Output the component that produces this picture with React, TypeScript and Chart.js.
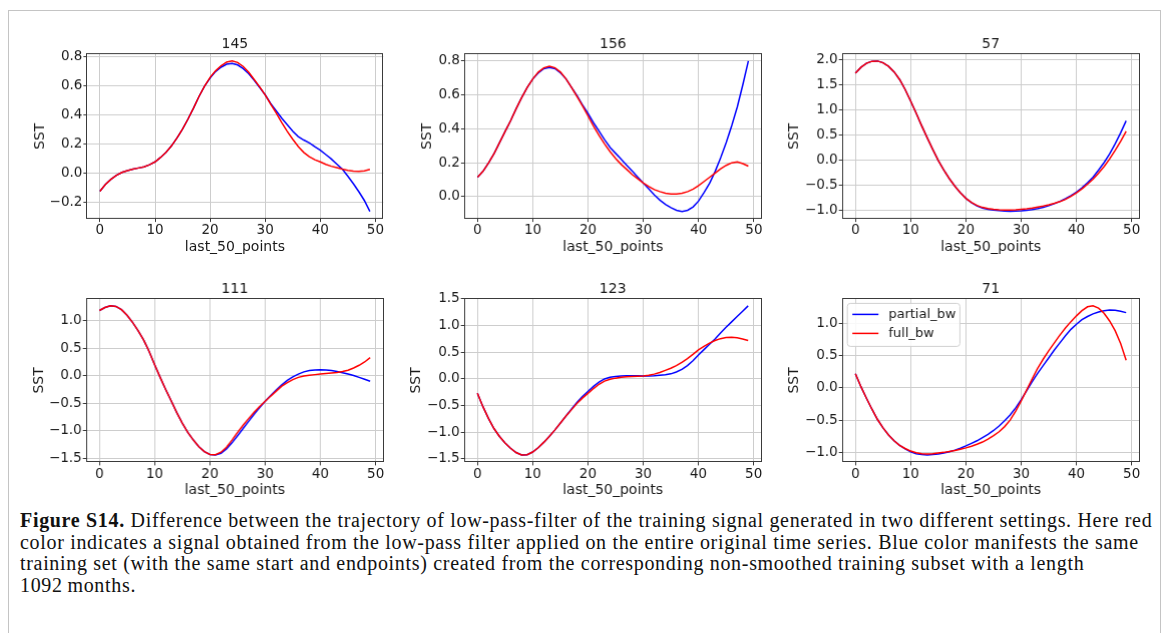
import React, { useEffect, useRef } from 'react';
import { Chart, registerables } from 'chart.js';

Chart.register(...registerables);

// ---------- data ----------
const xIndex = [
  0, 1, 2, 3, 4, 5, 6, 7, 8, 9, 10, 11, 12, 13, 14, 15, 16, 17, 18, 19, 20, 21, 22, 23, 24,
  25, 26, 27, 28, 29, 30, 31, 32, 33, 34, 35, 36, 37, 38, 39, 40, 41, 42, 43, 44, 45, 46, 47, 48, 49,
];
const xTickValues = [0, 10, 20, 30, 40, 50];
const xTickLabels = ['0', '10', '20', '30', '40', '50'];

const seriesNames = ['partial_bw', 'full_bw'];
const panelTitles = ['145', '156', '57', '111', '123', '71'];

const partial145 = [
  -0.122, -0.075, -0.04, -0.012, 0.008, 0.02, 0.03, 0.038, 0.046, 0.06,
  0.08, 0.11, 0.145, 0.19, 0.245, 0.305, 0.375, 0.45, 0.53, 0.6,
  0.655, 0.7, 0.73, 0.75, 0.755, 0.745, 0.72, 0.685, 0.64, 0.59,
  0.54, 0.48, 0.43, 0.38, 0.335, 0.29, 0.254, 0.23, 0.21, 0.185,
  0.16, 0.13, 0.1, 0.065, 0.03, -0.018, -0.07, -0.125, -0.185, -0.26,
];
const full145 = [
  -0.122, -0.075, -0.04, -0.012, 0.008, 0.02, 0.03, 0.038, 0.046, 0.06,
  0.08, 0.11, 0.145, 0.19, 0.245, 0.305, 0.375, 0.45, 0.53, 0.6,
  0.66, 0.705, 0.74, 0.765, 0.772, 0.762, 0.735, 0.695, 0.645, 0.595,
  0.54, 0.475, 0.415, 0.35, 0.29, 0.235, 0.185, 0.145, 0.115, 0.095,
  0.08, 0.063, 0.05, 0.04, 0.03, 0.022, 0.016, 0.015, 0.018, 0.028,
];

const partial156 = [
  0.115, 0.15, 0.2, 0.255, 0.32, 0.385, 0.45, 0.52, 0.585, 0.645,
  0.695, 0.73, 0.755, 0.762, 0.755, 0.73, 0.695, 0.645, 0.595, 0.54,
  0.49, 0.435, 0.385, 0.335, 0.29, 0.255, 0.22, 0.185, 0.15, 0.115,
  0.08, 0.045, 0.01, -0.02, -0.045, -0.065, -0.08, -0.087, -0.08, -0.06,
  -0.025, 0.025, 0.08, 0.15, 0.23, 0.32, 0.42, 0.53, 0.66, 0.8,
];
const full156 = [
  0.115, 0.15, 0.2, 0.255, 0.32, 0.385, 0.45, 0.52, 0.585, 0.645,
  0.695, 0.735, 0.76, 0.77, 0.76, 0.735, 0.695, 0.645, 0.59, 0.535,
  0.475, 0.415, 0.36, 0.31, 0.265, 0.225, 0.19, 0.16, 0.13, 0.105,
  0.08, 0.06, 0.042, 0.03, 0.02, 0.016, 0.016, 0.02, 0.03, 0.045,
  0.065, 0.09, 0.115, 0.14, 0.165, 0.185, 0.2, 0.205, 0.195, 0.18,
];

const partial57 = [
  1.725, 1.84, 1.92, 1.96, 1.965, 1.93, 1.86, 1.75, 1.6, 1.4,
  1.17, 0.93, 0.68, 0.44, 0.21, -0.01, -0.2, -0.37, -0.52, -0.65,
  -0.76, -0.845, -0.91, -0.955, -0.98, -0.995, -1.005, -1.015, -1.02, -1.015,
  -1.01, -1.0, -0.985, -0.965, -0.94, -0.905, -0.865, -0.82, -0.765, -0.705,
  -0.635, -0.55, -0.45, -0.34, -0.2, -0.05, 0.12, 0.32, 0.54, 0.78,
];
const full57 = [
  1.725, 1.84, 1.92, 1.96, 1.965, 1.93, 1.86, 1.75, 1.6, 1.4,
  1.17, 0.93, 0.68, 0.44, 0.21, -0.01, -0.2, -0.37, -0.52, -0.65,
  -0.76, -0.84, -0.9, -0.94, -0.965, -0.98, -0.99, -0.995, -0.995, -0.99,
  -0.98, -0.97, -0.955, -0.935, -0.915, -0.89, -0.86, -0.825, -0.78, -0.72,
  -0.65, -0.57, -0.48, -0.38, -0.26, -0.13, 0.02, 0.19, 0.37, 0.57,
];

const partial111 = [
  1.185, 1.24, 1.27, 1.26, 1.2, 1.1, 0.97, 0.82, 0.65, 0.44,
  0.2, -0.03, -0.25, -0.46, -0.67, -0.86, -1.03, -1.17, -1.29, -1.38,
  -1.43, -1.44, -1.41, -1.33, -1.22, -1.09, -0.96, -0.83, -0.7, -0.58,
  -0.465, -0.36, -0.26, -0.165, -0.085, -0.02, 0.03, 0.07, 0.095, 0.105,
  0.11, 0.105, 0.095, 0.075, 0.055, 0.03, 0.005, -0.03, -0.065, -0.1,
];
const full111 = [
  1.185, 1.24, 1.27, 1.26, 1.2, 1.1, 0.97, 0.82, 0.65, 0.44,
  0.2, -0.03, -0.25, -0.46, -0.67, -0.86, -1.03, -1.17, -1.29, -1.38,
  -1.43, -1.435, -1.39, -1.3, -1.17, -1.03, -0.9, -0.78, -0.665, -0.56,
  -0.465, -0.37, -0.28, -0.19, -0.125, -0.07, -0.03, -0.005, 0.01, 0.02,
  0.03, 0.04, 0.05, 0.06, 0.075, 0.1, 0.14, 0.19, 0.25, 0.33,
];

const partial123 = [
  -0.27, -0.52, -0.74, -0.93, -1.08, -1.2, -1.3, -1.38, -1.425, -1.42,
  -1.37, -1.29, -1.19, -1.08, -0.96, -0.83, -0.7, -0.57, -0.44, -0.33,
  -0.235, -0.14, -0.06, 0.0, 0.03, 0.045, 0.055, 0.06, 0.06, 0.058,
  0.055, 0.055, 0.06, 0.07, 0.08, 0.095, 0.13, 0.18, 0.25, 0.34,
  0.45, 0.55, 0.65, 0.75, 0.86, 0.97, 1.07, 1.17, 1.27, 1.37,
];
const full123 = [
  -0.27, -0.52, -0.74, -0.93, -1.08, -1.2, -1.3, -1.38, -1.425, -1.42,
  -1.37, -1.29, -1.19, -1.08, -0.96, -0.83, -0.7, -0.58, -0.46, -0.36,
  -0.27, -0.18, -0.1, -0.04, -0.005, 0.015, 0.03, 0.04, 0.045, 0.05,
  0.055, 0.07, 0.09, 0.12, 0.16, 0.2, 0.25, 0.31, 0.38, 0.46,
  0.545, 0.61, 0.67, 0.72, 0.755, 0.775, 0.78, 0.77, 0.75, 0.72,
];

const partial71 = [
  0.22, 0.02, -0.16, -0.33, -0.49, -0.62, -0.73, -0.82, -0.89, -0.945,
  -0.99, -1.02, -1.035, -1.04, -1.035, -1.025, -1.01, -0.99, -0.965, -0.935,
  -0.9, -0.86, -0.82, -0.77, -0.72, -0.66, -0.59, -0.51, -0.42, -0.31,
  -0.18, -0.04, 0.1, 0.23, 0.35, 0.47, 0.59, 0.7, 0.81, 0.91,
  0.99, 1.06, 1.11, 1.15, 1.18, 1.2, 1.21, 1.205, 1.19, 1.17,
];
const full71 = [
  0.22, 0.02, -0.16, -0.33, -0.49, -0.62, -0.73, -0.82, -0.89, -0.94,
  -0.98, -1.005, -1.02, -1.025, -1.02, -1.01, -1.0, -0.985, -0.97, -0.95,
  -0.93, -0.905, -0.875, -0.84, -0.795, -0.74, -0.68, -0.6, -0.5, -0.36,
  -0.2, -0.03, 0.14, 0.31, 0.45, 0.58, 0.7, 0.82, 0.93, 1.03,
  1.12, 1.2, 1.26, 1.275, 1.24, 1.16, 1.04, 0.89, 0.69, 0.43,
];

const yTicks145 = [-0.2, 0, 0.2, 0.4, 0.6, 0.8];
const yTickLabels145 = ['\u22120.2', '0.0', '0.2', '0.4', '0.6', '0.8'];
const yTicks156 = [0, 0.2, 0.4, 0.6, 0.8];
const yTickLabels156 = ['0.0', '0.2', '0.4', '0.6', '0.8'];
const yTicks57 = [-1, -0.5, 0, 0.5, 1, 1.5, 2];
const yTickLabels57 = ['\u22121.0', '\u22120.5', '0.0', '0.5', '1.0', '1.5', '2.0'];
const yTicks111 = [-1.5, -1, -0.5, 0, 0.5, 1];
const yTickLabels111 = ['\u22121.5', '\u22121.0', '\u22120.5', '0.0', '0.5', '1.0'];
const yTicks123 = [-1.5, -1, -0.5, 0, 0.5, 1, 1.5];
const yTickLabels123 = ['\u22121.5', '\u22121.0', '\u22120.5', '0.0', '0.5', '1.0', '1.5'];
const yTicks71 = [-1, -0.5, 0, 0.5, 1];
const yTickLabels71 = ['\u22121.0', '\u22120.5', '0.0', '0.5', '1.0'];

const xAxisTitle = 'last_50_points';
const yAxisTitle = 'SST';

const captionBold = 'Figure S14.';
const captionLines = [
  ' Difference between the trajectory of low-pass-filter of the training signal generated in two different settings. Here red',
  'color indicates a signal obtained from the low-pass filter applied on the entire original time series. Blue color manifests the same',
  'training set (with the same start and endpoints) created from the corresponding non-smoothed training subset with a length',
  '1092\u2009months.',
];

// ---------- styling / layout ----------
const FONT = "'DejaVu Sans', 'Noto Sans', sans-serif";
const TEXT = '#1a1a1a';

type Panel = {
  title: string;
  partial: number[];
  full: number[];
  yTicks: number[];
  yTickLabels: string[];
  left: number;
  top: number;
  plotW: number;
  plotH: number;
  yW: number;
  legend: boolean;
};

const panels: Panel[] = [
  { title: panelTitles[0], partial: partial145, full: full145, yTicks: yTicks145, yTickLabels: yTickLabels145, left: 86, top: 53.3, plotW: 297, plotH: 164.7, yW: 54.4, legend: false },
  { title: panelTitles[1], partial: partial156, full: full156, yTicks: yTicks156, yTickLabels: yTickLabels156, left: 464, top: 53.3, plotW: 297, plotH: 164.7, yW: 44.9, legend: false },
  { title: panelTitles[2], partial: partial57, full: full57, yTicks: yTicks57, yTickLabels: yTickLabels57, left: 842, top: 53.3, plotW: 297, plotH: 164.7, yW: 55.7, legend: false },
  { title: panelTitles[3], partial: partial111, full: full111, yTicks: yTicks111, yTickLabels: yTickLabels111, left: 86, top: 298, plotW: 297, plotH: 164, yW: 54.7, legend: false },
  { title: panelTitles[4], partial: partial123, full: full123, yTicks: yTicks123, yTickLabels: yTickLabels123, left: 464, top: 298, plotW: 297, plotH: 164, yW: 55.7, legend: false },
  { title: panelTitles[5], partial: partial71, full: full71, yTicks: yTicks71, yTickLabels: yTickLabels71, left: 842, top: 298, plotW: 297, plotH: 164, yW: 55.7, legend: true },
];

const TITLE_SIZE = 14;
const TITLE_PAD = 0.6;
const TITLE_H = TITLE_SIZE * 1.2 + TITLE_PAD;
const AXIS_TITLE_SIZE = 14;
const TICK_SIZE = 13.5;
const XAXIS_H = 36.8;
const RIGHT_PAD = 12;

function tickFormatter(values: number[], labels: string[]) {
  return (v: number | string) => {
    const i = values.findIndex((t) => Math.abs(t - Number(v)) < 1e-9);
    return i >= 0 ? labels[i] : '';
  };
}

const spinePlugin = {
  id: 'spines',
  afterDatasetsDraw(chart: any) {
    const { ctx, chartArea: a } = chart;
    ctx.save();
    ctx.strokeStyle = '#3a3a3a';
    ctx.lineWidth = 1;
    const l = Math.round(a.left) + 0.5;
    const t = Math.round(a.top) + 0.5;
    const r = Math.round(a.right) - 0.5;
    const b = Math.round(a.bottom) - 0.5;
    ctx.strokeRect(l, t, r - l, b - t);
    ctx.restore();
  },
};

const boxLegendPlugin = {
  id: 'boxLegend',
  afterDatasetsDraw(chart: any, _args: any, opts: any) {
    if (!opts || !opts.show) return;
    const { ctx, chartArea: a } = chart;
    const fontSize = 13;
    ctx.save();
    ctx.font = `${fontSize}px ${FONT}`;
    const items = chart.data.datasets.map((d: any) => ({ label: d.label, color: d.borderColor }));
    const lineLen = 26;
    const pad = 5;
    const gap = 10;
    const rowH = 19;
    const maxText = Math.max(...items.map((it: any) => ctx.measureText(it.label).width));
    const w = pad + lineLen + gap + maxText + 4;
    const h = items.length * rowH + 5;
    const x = a.left + 5.5;
    const y = a.top + 5;
    ctx.beginPath();
    if (ctx.roundRect) ctx.roundRect(x, y, w, h, 3);
    else ctx.rect(x, y, w, h);
    ctx.fillStyle = 'rgba(255,255,255,0.85)';
    ctx.fill();
    ctx.strokeStyle = '#d0d0d0';
    ctx.lineWidth = 1;
    ctx.stroke();
    items.forEach((it: any, i: number) => {
      const cy = y + 11 + i * rowH;
      ctx.beginPath();
      ctx.moveTo(x + pad, cy);
      ctx.lineTo(x + pad + lineLen, cy);
      ctx.strokeStyle = it.color;
      ctx.lineWidth = 1.5;
      ctx.stroke();
      ctx.fillStyle = TEXT;
      ctx.textBaseline = 'middle';
      ctx.textAlign = 'left';
      ctx.fillText(it.label, x + pad + lineLen + gap, cy);
    });
    ctx.restore();
  },
};

function SubPlot({ p }: { p: Panel }) {
  const ref = useRef<HTMLCanvasElement | null>(null);
  useEffect(() => {
    if (!ref.current) return;
    const all = p.partial.concat(p.full);
    const lo = Math.min(...all);
    const hi = Math.max(...all);
    const m = (hi - lo) * 0.05;
    const xLo = xIndex[0];
    const xHi = xIndex[xIndex.length - 1];
    const xm = (xHi - xLo) * 0.05;
    const chart = new Chart(ref.current, {
      type: 'line',
      data: {
        datasets: [
          {
            label: seriesNames[0],
            data: xIndex.map((x, i) => ({ x, y: p.partial[i] })),
            borderColor: '#0000ff',
            backgroundColor: '#0000ff',
            borderWidth: 1.5,
            pointRadius: 0,
            tension: 0,
            order: 1,
          },
          {
            label: seriesNames[1],
            data: xIndex.map((x, i) => ({ x, y: p.full[i] })),
            borderColor: '#ff0000',
            backgroundColor: '#ff0000',
            borderWidth: 1.5,
            pointRadius: 0,
            tension: 0,
            order: 0,
          },
        ],
      },
      options: {
        responsive: true,
        maintainAspectRatio: false,
        animation: false,
        events: [],
        layout: { padding: { left: 0, right: RIGHT_PAD, top: 0, bottom: 0 } },
        plugins: {
          legend: { display: false },
          tooltip: { enabled: false },
          title: {
            display: true,
            text: p.title,
            fullSize: false,
            color: TEXT,
            font: { family: FONT, size: TITLE_SIZE, weight: 'normal', lineHeight: 1.2 },
            padding: { top: 0, bottom: TITLE_PAD },
          },
          boxLegend: { show: p.legend },
        } as any,
        scales: {
          x: {
            type: 'linear',
            min: xLo - xm,
            max: xHi + xm,
            afterBuildTicks: (s: any) => {
              s.ticks = xTickValues.map((v) => ({ value: v }));
            },
            afterFit: (s: any) => {
              s.height = XAXIS_H;
            },
            ticks: {
              autoSkip: false,
              maxRotation: 0,
              padding: 0.5,
              color: TEXT,
              font: { family: FONT, size: TICK_SIZE },
              callback: tickFormatter(xTickValues, xTickLabels),
            },
            grid: { color: '#cdcdcd', lineWidth: 1, drawTicks: true, tickLength: 3, tickColor: '#3a3a3a', tickWidth: 1 },
            border: { display: false },
            title: { display: true, text: xAxisTitle, color: TEXT, font: { family: FONT, size: AXIS_TITLE_SIZE }, padding: 0 },
          },
          y: {
            type: 'linear',
            min: lo - m,
            max: hi + m,
            afterBuildTicks: (s: any) => {
              s.ticks = p.yTicks.map((v) => ({ value: v }));
            },
            afterFit: (s: any) => {
              s.width = p.yW;
            },
            ticks: {
              autoSkip: false,
              padding: 1,
              color: TEXT,
              font: { family: FONT, size: TICK_SIZE },
              callback: tickFormatter(p.yTicks, p.yTickLabels),
            },
            grid: { color: '#cdcdcd', lineWidth: 1, drawTicks: true, tickLength: 3, tickColor: '#3a3a3a', tickWidth: 1 },
            border: { display: false },
            title: { display: true, text: yAxisTitle, color: TEXT, font: { family: FONT, size: AXIS_TITLE_SIZE }, padding: 0 },
          },
        },
      } as any,
      plugins: [spinePlugin, boxLegendPlugin],
    });
    return () => chart.destroy();
  }, [p]);

  const w = p.yW + p.plotW + RIGHT_PAD;
  const h = TITLE_H + p.plotH + XAXIS_H;
  return (
    <div
      style={{
        position: 'absolute',
        left: p.left - p.yW,
        top: p.top - TITLE_H,
        width: w,
        height: h,
      }}
    >
      <canvas ref={ref} />
    </div>
  );
}

export default function App() {
  return (
    <div
      style={{
        position: 'absolute',
        left: 0,
        top: 0,
        width: 1170,
        height: 633,
        overflow: 'hidden',
        background: '#ffffff',
      }}
    >
      <div
        style={{
          position: 'absolute',
          left: 8,
          top: 10,
          width: 1153,
          height: 660,
          border: '1px solid #c4c4c4',
          boxSizing: 'border-box',
        }}
      />
      {panels.map((p) => (
        <SubPlot key={p.title} p={p} />
      ))}
      <div
        style={{
          position: 'absolute',
          left: 20,
          top: 510,
          fontFamily: "'Liberation Serif', 'DejaVu Serif', serif",
          fontSize: 20,
          letterSpacing: '0.68px',
          lineHeight: '21.5px',
          color: '#111111',
          whiteSpace: 'nowrap',
        }}
      >
        {captionLines.map((line, i) => (
          <div key={i}>
            {i === 0 ? <b>{captionBold}</b> : null}
            {line}
          </div>
        ))}
      </div>
    </div>
  );
}
